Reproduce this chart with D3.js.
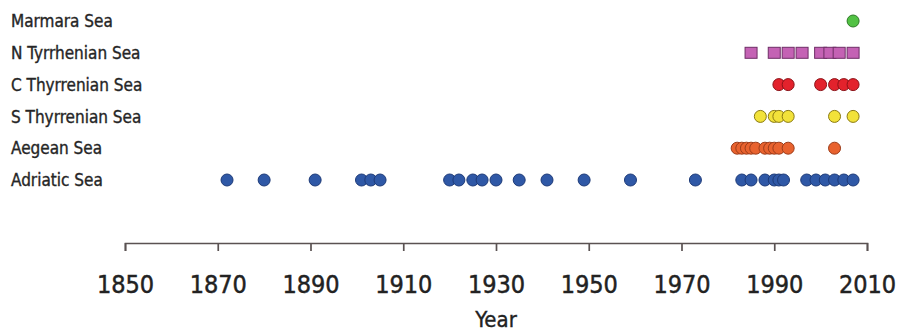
<!DOCTYPE html>
<html>
<head>
<meta charset="utf-8">
<script src="https://cdn.jsdelivr.net/npm/d3@7"></script>
<style>
    body { margin: 0; background: #fff; }
    #chart { width: 901px; height: 335px; }
    .row-label { font-family: "DejaVu Sans Condensed", "DejaVu Sans", sans-serif; font-size: 17px; fill: #262626; stroke: #262626; stroke-width: 0.35; }
    .x.axis text { font-family: "DejaVu Sans Condensed", "DejaVu Sans", sans-serif; font-size: 25px; fill: #222; stroke: #222; stroke-width: 0.45; }
    .x.axis path, .x.axis line { stroke: #5a5252; stroke-width: 1.7; }
    .axis-title { font-family: "DejaVu Sans Condensed", "DejaVu Sans", sans-serif; font-size: 22px; fill: #222; stroke: #222; stroke-width: 0.35; }
</style>
</head>
<body>
<div id="chart"></div>
<script>
// rows, bottom to top
var categories = ["Adriatic Sea", "Aegean Sea", "S Thyrrenian Sea", "C Thyrrenian Sea", "N Tyrrhenian Sea", "Marmara Sea"];

// years of each record
var adriaticYears = [1872, 1880, 1891, 1901, 1903, 1905, 1920, 1922, 1925, 1927, 1930, 1935, 1941, 1949, 1959,
    1973, 1983, 1985, 1988, 1990, 1991, 1992, 1997, 1999, 2001, 2003, 2005, 2007];
var aegeanYears = [1982, 1983, 1984, 1985, 1986, 1988, 1989, 1990, 1991, 1993, 2003];
var sThyrrenianYears = [1987, 1990, 1991, 1993, 2003, 2007];
var cThyrrenianYears = [1991, 1993, 2000, 2003, 2005, 2007];
var nTyrrhenianYears = [1985, 1990, 1993, 1996, 2000, 2002, 2004, 2007];
var marmaraYears = [2007];

var xTicks = [1850, 1870, 1890, 1910, 1930, 1950, 1970, 1990, 2010];

var seriesYears = [adriaticYears, aegeanYears, sThyrrenianYears, cThyrrenianYears, nTyrrhenianYears, marmaraYears];
var fills = ["#2f58a6", "#e8622e", "#f2e23a", "#e3222c", "#c462b4", "#52c244"];
var strokes = ["#1d3a78", "#9c3c1a", "#8a7a12", "#8c1218", "#6e2e66", "#2e7a26"];

var points = [];
seriesYears.forEach(function(years, i) {
    years.forEach(function(y) {
        points.push({ sea: categories[i], year: y, idx: i });
    });
});

var cx = 901, cy = 335;
var svg = d3.select("#chart").append("svg")
    .attr("width", cx)
    .attr("height", cy);

var x = d3.scaleLinear()
    .domain([1850, 2010])
    .range([125, 867]);

var y = d3.scalePoint()
    .domain(categories)
    .range([180, 21]);

svg.selectAll(".row-label")
    .data(categories)
  .enter().append("text")
    .attr("class", "row-label")
    .attr("x", 11)
    .attr("y", function(d) { return y(d); })
    .attr("dy", "0.36em")
    .text(function(d) { return d; });

var r = 6;
var marks = svg.append("g");

// circles for every sea except N Tyrrhenian, which uses squares
marks.selectAll("circle")
    .data(points.filter(function(d) { return d.sea != "N Tyrrhenian Sea"; }))
  .enter().append("circle")
    .attr("cx", function(d) { return x(d.year); })
    .attr("cy", function(d) { return y(d.sea); })
    .attr("r", r)
    .style("fill", function(d) { return fills[d.idx]; })
    .style("stroke", function(d) { return strokes[d.idx]; })
    .style("stroke-width", 1);

marks.selectAll("rect")
    .data(points.filter(function(d) { return d.sea == "N Tyrrhenian Sea"; }))
  .enter().append("rect")
    .attr("x", function(d) { return x(d.year) - r; })
    .attr("y", function(d) { return y(d.sea) - r + 0.5; })
    .attr("width", r * 2)
    .attr("height", r * 2 - 1)
    .style("fill", function(d) { return fills[d.idx]; })
    .style("stroke", function(d) { return strokes[d.idx]; })
    .style("stroke-width", 1);

var xAxis = d3.axisBottom(x)
    .tickValues(xTicks)
    .tickFormat(d3.format("d"))
    .tickSize(8)
    .tickSizeOuter(8)
    .tickPadding(24);

svg.append("g")
    .attr("class", "x axis")
    .attr("transform", "translate(0,243)")
    .call(xAxis);

svg.append("text")
    .attr("class", "axis-title")
    .attr("x", (x.range()[0] + x.range()[1]) / 2)
    .attr("y", 327)
    .attr("text-anchor", "middle")
    .text("Year");
</script>
</body>
</html>
